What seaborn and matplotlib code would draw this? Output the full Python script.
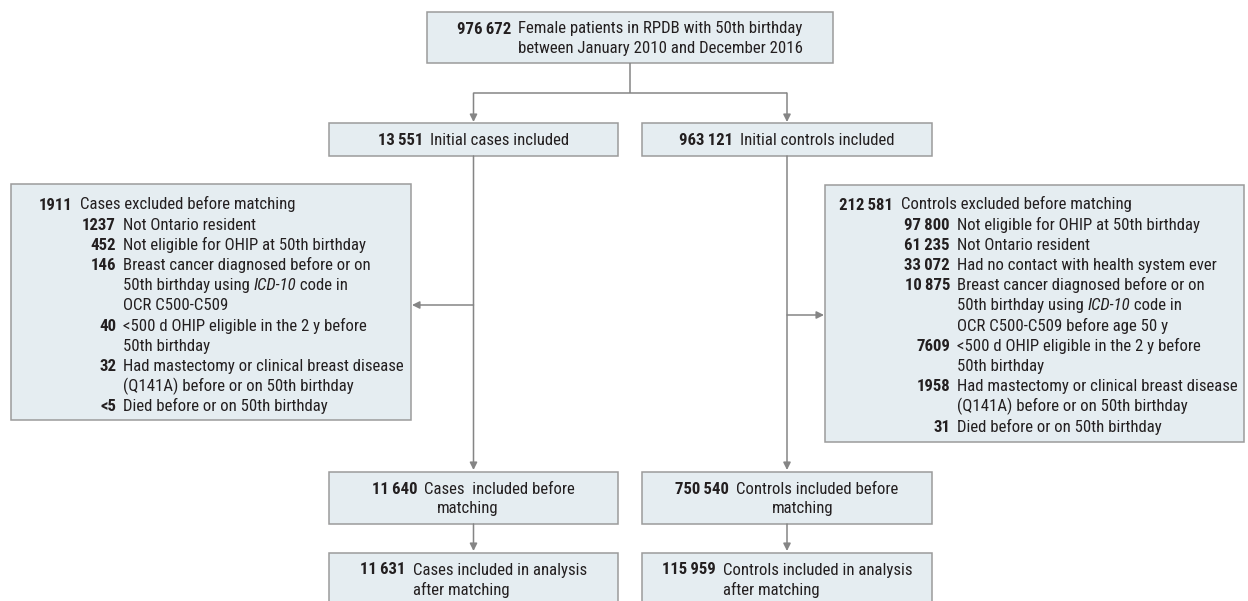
import matplotlib
matplotlib.use("Agg")
import matplotlib.pyplot as plt
import seaborn as sns
from matplotlib import font_manager
from matplotlib.patches import Rectangle

# ---- chart content ----
top_num = "976\u2009672"
top_text = ["Female patients in RPDB with 50th birthday",
            "between January 2010 and December 2016"]

flow_nums = ["13\u2009551", "963\u2009121", "11\u2009640", "750\u2009540",
             "11\u2009631", "115\u2009959"]
flow_text = [["Initial cases included"],
             ["Initial controls included"],
             ["Cases  included before", "matching"],
             ["Controls included before", "matching"],
             ["Cases included in analysis", "after matching"],
             ["Controls included in analysis", "after matching"]]

case_excl_total = "1911"
case_excl_title = "Cases excluded before matching"
case_excl_nums = ["1237", "452", "146", "40", "32", "<5"]
case_excl_labels = ["Not Ontario resident",
                    "Not eligible for OHIP at 50th birthday",
                    "Breast cancer diagnosed before or on\n50th birthday using *ICD-10* code in\nOCR C500-C509",
                    "<500 d OHIP eligible in the 2 y before\n50th birthday",
                    "Had mastectomy or clinical breast disease\n(Q141A) before or on 50th birthday",
                    "Died before or on 50th birthday"]

ctrl_excl_total = "212\u2009581"
ctrl_excl_title = "Controls excluded before matching"
ctrl_excl_nums = ["97\u2009800", "61\u2009235", "33\u2009072", "10\u2009875", "7609", "1958", "31"]
ctrl_excl_labels = ["Not eligible for OHIP at 50th birthday",
                    "Not Ontario resident",
                    "Had no contact with health system ever",
                    "Breast cancer diagnosed before or on\n50th birthday using *ICD-10* code in\nOCR C500-C509 before age 50 y",
                    "<500 d OHIP eligible in the 2 y before\n50th birthday",
                    "Had mastectomy or clinical breast disease\n(Q141A) before or on 50th birthday",
                    "Died before or on 50th birthday"]

# ---- style ----
sns.set_theme(style="white")
names = {f.name for f in font_manager.fontManager.ttflist}
FAM = "DejaVu Sans"
FS = 10
for cand, size in [("Liberation Sans Narrow", 11.5), ("Roboto Condensed", 11),
                   ("Open Sans Condensed", 11), ("Liberation Sans", 10)]:
    if cand in names:
        FAM, FS = cand, size
        break
FS = FS * 1.1
plt.rcParams["font.family"] = [FAM, "DejaVu Sans"]

FILL = "#e5edf1"
EDGE = "#9b9b9b"
LINE = "#858585"
TXT = "#231f20"
W, H = 1248, 601

fig = plt.figure(figsize=(W / 100, H / 100), dpi=100)
ax = fig.add_axes([0, 0, 1, 1])
ax.set_xlim(0, W)
ax.set_ylim(H, 0)
ax.axis("off")
rend = fig.canvas.get_renderer()


def width(s, **kw):
    t = ax.text(0, 0, "|" + s + "|", fontsize=FS, **kw)
    t2 = ax.text(0, 0, "||", fontsize=FS, **kw)
    w = t.get_window_extent(rend).width - t2.get_window_extent(rend).width
    t.remove()
    t2.remove()
    return w


def runs(x, y, s):
    # text with *italic* parts
    for i, p in enumerate(s.split("*")):
        if not p:
            continue
        st = "italic" if i % 2 else "normal"
        ax.text(x, y, p, fontsize=FS, style=st, va="baseline", ha="left", color=TXT)
        x += width(p, style=st)


def box(x0, y0, x1, y1):
    ax.add_patch(Rectangle((x0, y0), x1 - x0, y1 - y0, fc=FILL, ec=EDGE, lw=1.1, zorder=1))


def arrow(x0, y0, x1, y1):
    ax.annotate("", xy=(x1, y1), xytext=(x0, y0),
                arrowprops=dict(arrowstyle="-|>", color=LINE, lw=1.1,
                                mutation_scale=11, shrinkA=0, shrinkB=0), zorder=2)


def line(xs, ys):
    ax.plot(xs, ys, color=LINE, lw=1.1, solid_capstyle="butt", zorder=2)


GAP = 7
BASE = 5.5


def flow_box(x0, y0, x1, y1, num, lines, indent=0):
    box(x0, y0, x1, y1)
    wn = width(num, weight="bold")
    wt = width(lines[0])
    cx = (x0 + x1) / 2
    xs = cx - (wn + GAP + wt) / 2
    if len(lines) == 1:
        ys = [(y0 + y1) / 2]
    else:
        ys = [y0 + 16, y0 + 36]
    ax.text(xs + wn, ys[0] + BASE, num, fontsize=FS, weight="bold", ha="right",
            va="baseline", color=TXT)
    for k, (ln, yy) in enumerate(zip(lines, ys)):
        runs(xs + wn + GAP + (indent if k else 0), yy + BASE, ln)


def excl_box(x0, y0, x1, y1, xnum, xsub, total, title, nums, labels):
    box(x0, y0, x1, y1)
    y = 204
    step = 20.2
    ax.text(xnum, y + BASE, total, fontsize=FS, weight="bold", ha="right", va="baseline", color=TXT)
    runs(xnum + GAP + 1, y + BASE, title)
    for n, lab in zip(nums, labels):
        y += step
        ax.text(xsub, y + BASE, n, fontsize=FS, weight="bold", ha="right", va="baseline", color=TXT)
        for k, ln in enumerate(lab.split("\n")):
            runs(xsub + GAP, y + BASE, ln)
            if k < lab.count("\n"):
                y += step


LX, RX = 473.5, 787

# connectors
line([630, 630], [63, 93])
line([LX, RX], [93, 93])
arrow(LX, 93, LX, 122)
arrow(RX, 93, RX, 122)
arrow(LX, 156, LX, 470)
arrow(RX, 156, RX, 470)
arrow(LX, 305, 412, 305)
arrow(RX, 315, 824, 315)
arrow(LX, 524, LX, 551)
arrow(RX, 524, RX, 551)

# boxes
flow_box(427, 12, 833, 63, top_num, top_text)
flow_box(329, 123, 618, 156, flow_nums[0], flow_text[0])
flow_box(642, 123, 932, 156, flow_nums[1], flow_text[1])
flow_box(329, 472, 618, 524, flow_nums[2], flow_text[2], indent=12)
flow_box(642, 472, 932, 524, flow_nums[3], flow_text[3], indent=36)
flow_box(329, 553, 618, 612, flow_nums[4], flow_text[4])
flow_box(642, 553, 932, 612, flow_nums[5], flow_text[5])

excl_box(11, 184, 411, 420, 72, 116, case_excl_total, case_excl_title,
         case_excl_nums, case_excl_labels)
excl_box(825, 185, 1244, 442, 893, 950, ctrl_excl_total, ctrl_excl_title,
         ctrl_excl_nums, ctrl_excl_labels)

fig.savefig("out.png", dpi=100)
